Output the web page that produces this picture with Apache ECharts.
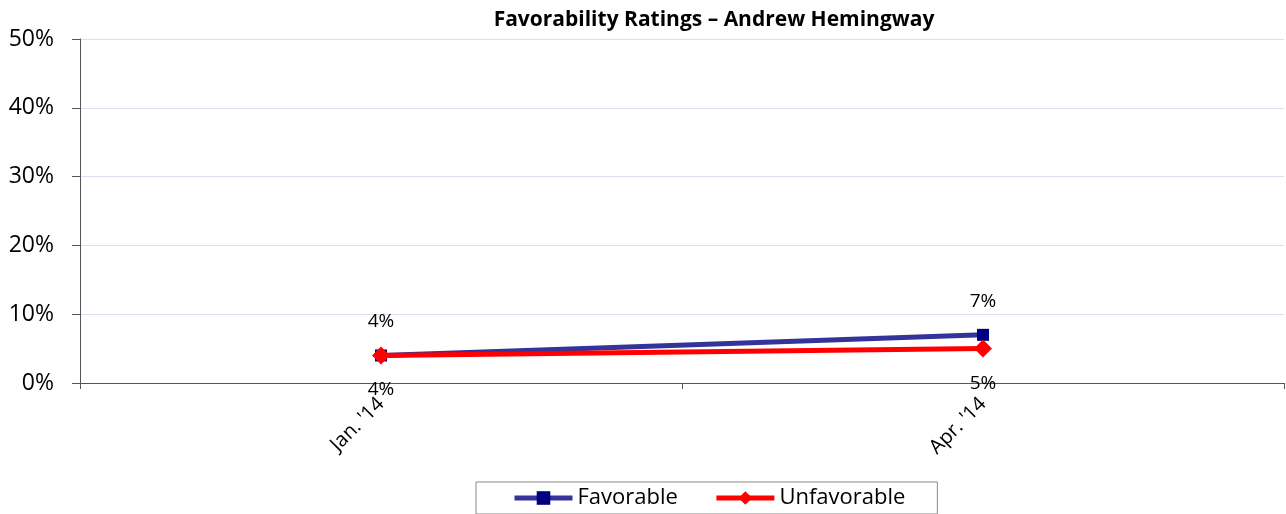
<!DOCTYPE html>
<html><head><meta charset="utf-8">
<script src="https://cdn.jsdelivr.net/npm/echarts@6/dist/echarts.min.js"></script>
<style>html,body{margin:0;padding:0;background:#fff}#c{width:1286px;height:514px}</style>
</head><body><div id="c"></div>
<script>
const categories = ["Jan. '14", "Apr. '14"];
const favorable = [4, 7];
const unfavorable = [4, 5];
const yTicks = [0, 10, 20, 30, 40, 50];
const F = "'Open Sans', 'Noto Sans', sans-serif";
const chart = echarts.init(document.getElementById('c'));
chart.setOption({
  animation: false,
  title: { text: 'Favorability Ratings \u2013 Andrew Hemingway', left: 709, top: 5, textAlign: 'center',
    textStyle: { fontFamily: F, fontSize: 21, fontWeight: 'bold', color: '#000' } },
  grid: { left: 80, right: 2, top: 39, bottom: 131, containLabel: false },
  legend: { bottom: 0, left: 476, itemWidth: 58, itemHeight: 17, itemGap: 36,
    borderColor: '#888', borderWidth: 1, padding: [5, 32, 5, 36],
    textStyle: { fontFamily: F, fontSize: 22, color: '#000' },
    data: [
      { name: 'Favorable', itemStyle: { color: '#000080' }, lineStyle: { color: '#333399', width: 5 } },
      { name: 'Unfavorable', itemStyle: { color: '#ff0000' }, lineStyle: { color: '#ff0000', width: 5 } }
    ] },
  xAxis: { type: 'category', data: categories, boundaryGap: true,
    axisLine: { lineStyle: { color: '#555', width: 1 } },
    axisTick: { show: true, length: 6, lineStyle: { color: '#555' } },
    axisLabel: { rotate: 45, fontFamily: F, fontSize: 20, color: '#000', margin: 18 } },
  yAxis: { type: 'value', min: yTicks[0], max: yTicks[yTicks.length - 1], interval: 10,
    axisLine: { show: true, lineStyle: { color: '#555' } },
    axisTick: { show: true, length: 8, lineStyle: { color: '#555' } },
    splitLine: { lineStyle: { color: '#d9dfee' } },
    axisLabel: { formatter: v => v + '%', fontFamily: F, fontSize: 23, color: '#000', margin: 26 } },
  series: [
    { name: 'Favorable', type: 'line', data: favorable, symbol: 'rect', symbolSize: 12,
      lineStyle: { color: '#333399', width: 5 }, itemStyle: { color: '#000080' },
      label: { show: true, position: 'top', distance: 18, formatter: p => p.value + '%',
        fontFamily: F, fontSize: 19, color: '#000' } },
    { name: 'Unfavorable', type: 'line', data: unfavorable, symbol: 'diamond', symbolSize: 18,
      lineStyle: { color: '#ff0000', width: 5 }, itemStyle: { color: '#ff0000' },
      label: { show: true, position: 'bottom', distance: 16, formatter: p => p.value + '%',
        fontFamily: F, fontSize: 19, color: '#000' } }
  ]
});
</script></body></html>
